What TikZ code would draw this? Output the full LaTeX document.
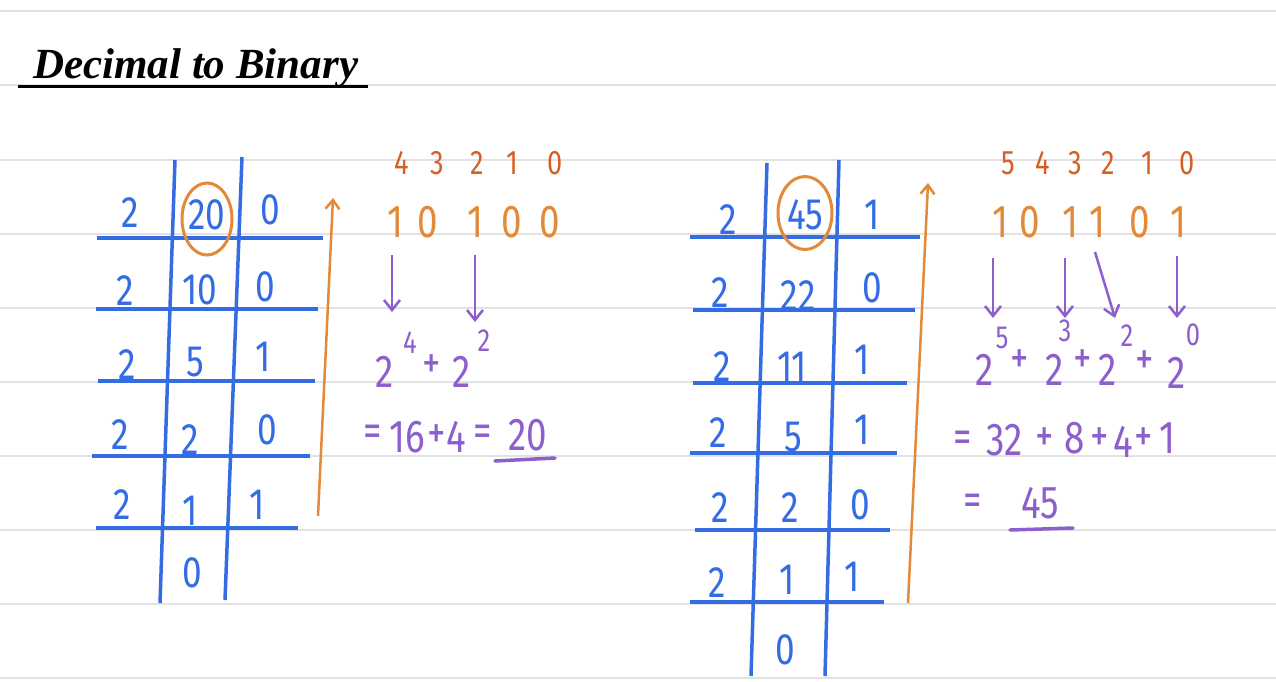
\documentclass[tikz,border=0pt]{standalone}
\usepackage{fontspec}
\setmainfont{Fira Sans}[FakeStretch=0.8]
\newfontfamily\titlefont{Liberation Serif}
\usetikzlibrary{arrows.meta,shapes.geometric}
\definecolor{ruleg}{RGB}{226,226,226}
\definecolor{inkblue}{RGB}{52,108,228}
\definecolor{inkorange}{RGB}{226,138,58}
\definecolor{inkred}{RGB}{214,96,36}
\definecolor{inkpurple}{RGB}{140,95,205}
\begin{document}
\begin{tikzpicture}[x=1pt,y=-1pt,
  rule/.style={ruleg,line width=1.2pt},
  tab/.style={inkblue,inner sep=0pt,font=\fontsize{44}{44}\selectfont},
  tline/.style={inkblue,line width=3.5pt},
  idx/.style={inkred,inner sep=0pt,font=\fontsize{34}{34}\selectfont},
  bit/.style={inkorange,inner sep=0pt,font=\fontsize{46}{46}\selectfont},
  expr/.style={inkpurple,inner sep=0pt,font=\fontsize{46}{46}\selectfont},
  sup/.style={inkpurple,inner sep=0pt,font=\fontsize{32}{32}\selectfont},
  oarrow/.style={inkorange,line width=2.5pt,-{Straight Barb[length=9pt,width=14pt]}},
  parrow/.style={inkpurple,line width=2.5pt,-{Straight Barb[length=10pt,width=16pt]}},
  ocirc/.style={draw=inkorange,line width=3pt,ellipse,inner sep=0pt},
  uline/.style={inkpurple,line width=3.5pt,line cap=round}
]
\useasboundingbox (0,0) rectangle (1276,681);
\fill[white] (0,0) rectangle (1276,681);
% ruled paper
\foreach \yy in {11,85,160,234,308,382,456,530,604,678}
  \draw[rule] (0,\yy) -- (1276,\yy);
% title
\node[anchor=base west,inner sep=0pt,font=\titlefont\bfseries\itshape\fontsize{43}{43}\selectfont] (title) at (33,78) {Decimal to Binary};
\coordinate (tu0) at (18,86);
\coordinate (tu1) at (368,86);
\draw[black,line width=3pt] (tu0) -- (tu1);

% ---------- left table ----------
\foreach \yy/\xa/\xb [count=\i] in {238/97/323,309/96/318,381/98/315,456/92/310,528/96/298}{
  \coordinate (lh\i a) at (\xa,\yy);
  \coordinate (lh\i b) at (\xb,\yy);
  \draw[tline] (lh\i a) -- (lh\i b);
}
\coordinate (lv1a) at (175,160); \coordinate (lv1b) at (160,603);
\coordinate (lv2a) at (242,157); \coordinate (lv2b) at (225,600);
\draw[tline] (lv1a) -- (lv1b);
\draw[tline] (lv2a) -- (lv2b);
\foreach \t/\x/\y/\n in {
  2/130/213/la1, 20/207/215/lb1, 0/270/210/lc1,
  2/125/291/la2, 10/200/290/lb2, 0/265/287/lc2,
  2/127/365/la3, 5/195/362/lb3, 1/263/357/lc3,
  2/120/435/la4, 2/190/440/lb4, 0/267/430/lc4,
  2/122/505/la5, 1/190/511/lb5, 1/257/505/lc5,
  0/192/573/lb6}
  \node[tab] (\n) at (\x,\y) {\t};
\node[ocirc,minimum width=50pt,minimum height=72pt] (c20) at (207,219) {};
\coordinate (lar0) at (318,516);
\coordinate (lar1) at (333,198);
\draw[oarrow] (lar0) -- (lar1);

% left conversion
\foreach \t/\x/\n in {4/402/li4,3/437/li3,2/477/li2,1/512/li1,0/555/li0}
  \node[idx] (\n) at (\x,163) {\t};
\foreach \t/\x/\n in {1/395/lbit4,0/428/lbit3,1/475/lbit2,0/512/lbit1,0/550/lbit0}
  \node[bit] (\n) at (\x,222) {\t};
\coordinate (lp1a) at (392,255); \coordinate (lp1b) at (392,312);
\coordinate (lp2a) at (475,255); \coordinate (lp2b) at (475,322);
\draw[parrow] (lp1a) -- (lp1b);
\draw[parrow] (lp2a) -- (lp2b);
\foreach \t/\x/\y/\n in {2/385/372/le1, +/432/367/le2, 2/462/372/le3,
  =/373/436/le4, 16/407/437/le5, +/437/437/le6, 4/456/437/le7, =/483/436/le8, 20/528/435/le9}
  \node[expr] (\n) at (\x,\y) {\t};
\node[sup] (ls1) at (410,343) {4};
\node[sup] (ls2) at (484,341) {2};
\coordinate (lu0) at (495,461); \coordinate (lu1) at (555,458);
\draw[uline] (lu0) -- (lu1);

% ---------- right table ----------
\foreach \yy/\xa/\xb [count=\i] in {237/690/920,310/693/915,383/693/907,453/690/897,530/695/890,602/690/884}{
  \coordinate (rh\i a) at (\xa,\yy);
  \coordinate (rh\i b) at (\xb,\yy);
  \draw[tline] (rh\i a) -- (rh\i b);
}
\coordinate (rv1a) at (767,163); \coordinate (rv1b) at (751,676);
\coordinate (rv2a) at (839,160); \coordinate (rv2b) at (825,676);
\draw[tline] (rv1a) -- (rv1b);
\draw[tline] (rv2a) -- (rv2b);
\foreach \t/\x/\y/\n in {
  2/728/220/ra1, 45/805/215/rb1, 1/872/215/rc1,
  2/720/293/ra2, 22/798/296/rb2, 0/872/288/rc2,
  2/722/367/ra3, 11/792/367/rb3, 1/862/360/rc3,
  2/718/433/ra4, 5/793/437/rb4, 1/862/430/rc4,
  2/720/508/ra5, 2/790/508/rb5, 0/860/505/rc5,
  2/717/583/ra6, 1/787/580/rb6, 1/852/577/rc6,
  0/785/650/rb7}
  \node[tab] (\n) at (\x,\y) {\t};
\node[ocirc,minimum width=54pt,minimum height=73pt] (c45) at (805,213) {};
\coordinate (rar0) at (908,603);
\coordinate (rar1) at (928,183);
\draw[oarrow] (rar0) -- (rar1);

% right conversion
\foreach \t/\x/\n in {5/1008/ri5,4/1043/ri4,3/1075/ri3,2/1108/ri2,1/1147/ri1,0/1187/ri0}
  \node[idx] (\n) at (\x,163) {\t};
\foreach \t/\x/\n in {1/1000/rbit5,0/1030/rbit4,1/1070/rbit3,1/1097/rbit2,0/1140/rbit1,1/1178/rbit0}
  \node[bit] (\n) at (\x,222) {\t};
\coordinate (rp1a) at (993,258);  \coordinate (rp1b) at (993,318);
\coordinate (rp2a) at (1065,258); \coordinate (rp2b) at (1065,318);
\coordinate (rp3a) at (1095,252); \coordinate (rp3b) at (1115,318);
\coordinate (rp4a) at (1177,256); \coordinate (rp4b) at (1177,318);
\foreach \i in {1,2,3,4} \draw[parrow] (rp\i a) -- (rp\i b);
\foreach \t/\x/\y/\n in {2/985/370/re1, +/1020/362/re2, 2/1055/370/re3, +/1083/362/re4,
  2/1108/370/re5, +/1145/363/re6, 2/1177/373/re7,
  =/963/442/re8, 32/1005/440/re9, +/1045/440/re10, 8/1075/438/re11, +/1100/440/re12,
  4/1123/442/re13, +/1144/440/re14, 1/1167/438/re15,
  =/973/505/re16, 45/1040/503/re17}
  \node[expr] (\n) at (\x,\y) {\t};
\node[sup] (rs1) at (1002,338) {5};
\node[sup] (rs2) at (1065,331) {3};
\node[sup] (rs3) at (1127,336) {2};
\node[sup] (rs4) at (1193,335) {0};
\coordinate (ru0) at (1010,530); \coordinate (ru1) at (1073,528);
\draw[uline] (ru0) -- (ru1);
\end{tikzpicture}
\end{document}
